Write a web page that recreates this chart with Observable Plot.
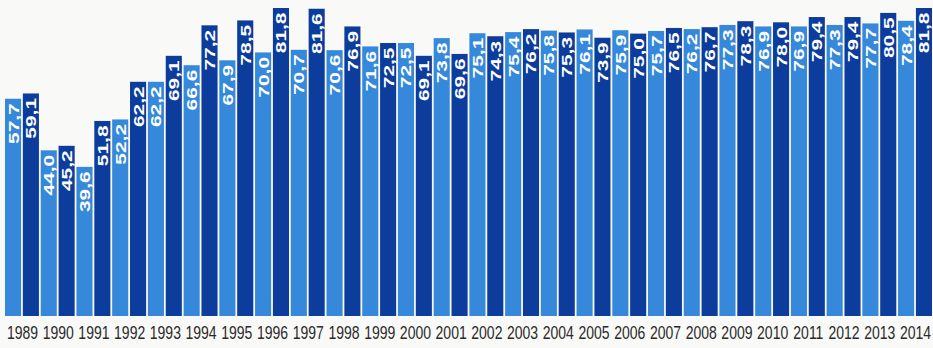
<!DOCTYPE html>
<html><head><meta charset="utf-8">
<script src="https://cdn.jsdelivr.net/npm/d3@7"></script>
<script src="https://cdn.jsdelivr.net/npm/@observablehq/plot@0.6"></script>
<style>
html,body{margin:0;padding:0;background:#f9f9f7;}
</style></head><body><div id="chart"></div>
<script>
const years = [1989,1990,1991,1992,1993,1994,1995,1996,1997,1998,1999,2000,2001,2002,2003,2004,2005,2006,2007,2008,2009,2010,2011,2012,2013,2014];
const light = [57.7,44.0,39.6,52.2,62.2,66.6,67.9,70.0,70.7,70.6,71.6,72.5,73.8,75.1,75.4,75.8,76.1,75.9,75.7,76.2,77.3,76.9,76.9,77.3,77.7,78.4];
const dark  = [59.1,45.2,51.8,62.2,69.1,77.2,78.5,81.8,81.6,76.9,72.5,69.1,69.6,74.3,76.2,75.3,73.9,75.0,76.5,76.7,78.3,78.0,79.4,79.4,80.5,81.8];
const series = ["a","b"];
const data = years.flatMap((y,i)=>[{year:y, s:"a", v:light[i]},{year:y, s:"b", v:dark[i]}]);
const fmt = v => v.toFixed(1).replace(".", ",");
const chart = Plot.plot({
  width:933, height:348, marginLeft:5, marginRight:1, marginTop:8, marginBottom:32,
  style:{background:"#f9f9f7", fontFamily:"'Liberation Sans', Arial, sans-serif"},
  fx:{label:null, paddingInner:0.05, paddingOuter:0, round:false},
  x:{axis:null, domain:series, paddingInner:0.1, paddingOuter:0, round:false},
  y:{axis:null, domain:[0,81.8]},
  color:{domain:series, range:["#3689da","#0c3c9c"]},
  marks:[
    Plot.barY(data,{fx:"year", x:"s", y:"v", fill:"s"}),
    Plot.text(data,{fx:"year", x:"s", y:"v", text:d=>fmt(d.v), rotate:-90, textAnchor:"end", dy:4, fill:"white", fontSize:15.5, fontWeight:"bold"}),
    Plot.axisFx({anchor:"bottom", tickSize:0, tickPadding:10, fontSize:14, label:null, fill:"#2a2a2a", tickFormat:d=>String(d)})
  ]
});
d3.select(chart).selectAll("text").each(function(){
  const labels = [];
  for (let n = this.parentNode; n && n !== chart; n = n.parentNode) {
    if (n.getAttribute && n.getAttribute("aria-label")) labels.push(n.getAttribute("aria-label"));
  }
  const t = this.getAttribute("transform") || "";
  if (labels.includes("text")) this.setAttribute("transform", t + " scale(1.35,1)");
  else if (labels.some(l => l.indexOf("fx-axis") === 0)) this.setAttribute("transform", t + " scale(1,1.3)");
});
document.getElementById("chart").appendChild(chart);
</script></body></html>
